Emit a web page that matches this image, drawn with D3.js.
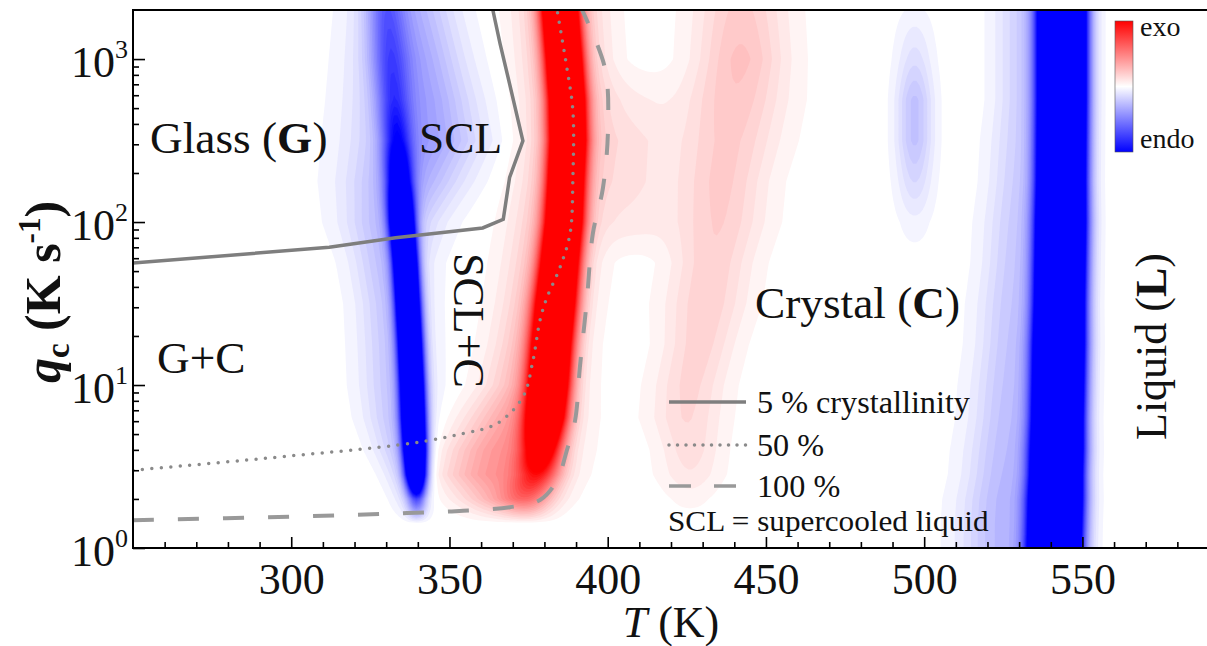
<!DOCTYPE html>
<html>
<head>
<meta charset="utf-8">
<script src="https://cdn.jsdelivr.net/npm/d3@7"></script>
<style>
  body { margin: 0; background: #fff; }
  text { font-family: "Liberation Serif", "Times New Roman", serif; fill: #111; }
</style>
</head>
<body>
<svg id="chart" width="1207" height="646"></svg>
<script>
// rows (log10 of q_c) at which the ridges of the map were read
var qRows = [0, 0.15, 0.3, 0.45, 0.6, 0.8, 1.0, 1.25, 1.5, 1.75, 2.0, 2.25, 2.5, 2.75, 3.0, 3.31];

// each ridge: centre T (K), spread (K), signed strength (exo > 0, endo < 0) per row
var glassCore = {
  T: [339.7, 339.7, 339.7, 339.4, 339.1, 338.6, 338.2, 337.6, 336.9, 336.1, 335.0, 334.2, 333.4, 332.3, 331.2, 329.9],
  w: [2.0, 2.0, 2.0, 2.2, 2.3, 2.4, 2.4, 2.4, 2.4, 2.4, 2.5, 2.8, 3.2, 3.6, 4.0, 4.0],
  a: [0, 0, -0.6, -2.0, -2.5, -2.5, -2.5, -2.5, -2.5, -2.5, -2.3, -1.2, -0.7, -0.5, -0.45, -0.4]
};
var glassHalo = {
  T: [339, 339, 338, 337, 335.5, 334, 333.5, 333, 332.5, 331.5, 332, 336, 340, 339, 337.5, 336],
  w: [4, 4, 4, 5, 6, 7, 7.5, 7.5, 7.5, 8, 10, 12, 13, 12, 11, 10],
  a: [0, 0, -0.15, -0.22, -0.24, -0.24, -0.24, -0.24, -0.25, -0.27, -0.3, -0.36, -0.4, -0.4, -0.38, -0.33]
};
var crystCore = {
  T: [375, 375, 374.8, 378, 379.2, 380.5, 381.4, 382.4, 383.6, 384.9, 386.2, 386.8, 387.4, 387.1, 386.2, 384.9],
  w: [5, 5, 5.5, 4.8, 4.3, 4.2, 4.0, 4.0, 4.0, 3.8, 3.7, 3.6, 3.6, 3.6, 3.6, 3.6],
  a: [0, 0, 0.35, 0.7, 1.2, 2.0, 2.5, 2.5, 2.5, 2.5, 2.5, 2.5, 2.5, 2.5, 2.5, 2.5]
};
var crystHalo = {
  T: [368, 368, 367.5, 366, 368, 372, 376, 378, 380, 382, 384, 386, 387, 387, 386, 385],
  w: [8, 8, 10, 12, 12, 11, 9.5, 9, 9, 9, 9, 9, 9, 9, 9, 9],
  a: [0, 0, 0.32, 0.42, 0.42, 0.38, 0.34, 0.32, 0.3, 0.3, 0.3, 0.3, 0.3, 0.3, 0.3, 0.3]
};
var coldBand = {
  T: [426, 426, 426, 426, 426, 425, 426, 429, 431, 433, 435, 436, 438, 440, 442, 442],
  w: [6, 6, 6, 7, 7, 8, 8, 8, 9, 9, 10, 10, 11, 11, 10, 10],
  a: [0, 0, 0.04, 0.1, 0.13, 0.15, 0.16, 0.17, 0.18, 0.18, 0.19, 0.2, 0.2, 0.22, 0.24, 0.2]
};
var coldBridge = {
  T: [408, 408, 408, 408, 408, 408, 408, 408, 408, 408, 408, 408, 408, 408, 408, 408],
  w: [9, 9, 9, 9, 9, 9, 9, 9, 9, 9, 9, 9, 9, 9, 9, 9],
  a: [0, 0, 0, 0, 0, 0, 0, 0, 0, 0, 0.08, 0.1, 0.1, 0.06, 0, 0]
};
var blueSpot = {
  T: [497, 497, 497, 497, 497, 497, 497, 497, 497, 497, 497, 497, 497, 497, 497, 497],
  w: [4, 4, 4, 4, 4, 4, 4, 4, 4, 4, 4, 4, 4, 4, 4, 4],
  a: [0, 0, 0, 0, 0, 0, 0, 0, 0, 0, -0.05, -0.15, -0.24, -0.24, -0.13, -0.03]
};
var meltCore = {
  T: [541.3, 541.5, 541.7, 541.9, 542.1, 542.3, 542.5, 542.7, 542.9, 543.1, 543.3, 543.4, 543.5, 543.6, 543.6, 543.6],
  w: [4.6, 4.6, 4.6, 4.5, 4.5, 4.4, 4.4, 4.4, 4.3, 4.3, 4.3, 4.2, 4.2, 4.2, 4.2, 4.2],
  a: [-5, -5, -5, -5, -5, -5, -5, -5, -5, -5, -5, -5, -5, -5, -5, -5]
};
var meltHalo = {
  T: [525, 525, 525.5, 526, 526.5, 527, 527.5, 528, 528.5, 529, 529.5, 530, 530.5, 531, 531, 531],
  w: [9, 9, 9, 8.5, 8.5, 8, 8, 7.5, 7.5, 7, 7, 6.5, 6.5, 6, 6, 6],
  a: [-0.28, -0.28, -0.28, -0.27, -0.26, -0.25, -0.24, -0.23, -0.22, -0.21, -0.2, -0.19, -0.18, -0.18, -0.18, -0.18]
};
var ridges = [glassCore, glassHalo, crystCore, crystHalo, coldBand, coldBridge, blueSpot, meltCore, meltHalo];

// crystallinity contours: T (K) and q_c (K/s)
var line5T = [250, 312, 333, 360.5, 367, 369, 373.2, 369, 366, 363.7];
var line5Q = [56, 70, 80, 92, 104, 188, 315, 704, 1240, 2000];
var line50T = [250, 291.1, 338.5, 354.3, 365, 373.2, 376.4, 378.6, 380.8, 384.9, 388.1, 389, 389, 387.1, 384];
var line50Q = [3.0, 3.54, 4.41, 5.04, 5.8, 8.45, 14.2, 24.9, 34.4, 52.6, 84.9, 187, 481, 882, 2000];
var line100T = [250, 301.8, 336.6, 354.3, 369.1, 378.6, 384, 387.1, 389.7, 391.2, 393.4, 395.3, 398.5, 400.1, 399.1, 391.9];
var line100Q = [1.48, 1.56, 1.64, 1.69, 1.78, 1.97, 2.61, 3.98, 6.08, 12.8, 33, 84.9, 162, 379, 882, 2000];

var xTicks = [300, 350, 400, 450, 500, 550];
var yTicks = [1, 10, 100, 1000];

var svg = d3.select("#chart");
var plot = { left: 133, right: 1209, top: 10, bottom: 548 };
var tMin = 250, tMax = 590, qMax = 2000;

var x = d3.scaleLinear()
          .domain([tMin, tMax])
          .range([plot.left, plot.right]);
var y = d3.scaleLog()
          .domain([1, qMax])
          .range([plot.bottom, plot.top]);

svg.append("defs")
  .append("clipPath")
    .attr("id", "clip")
  .append("rect")
    .attr("x", plot.left)
    .attr("y", plot.top)
    .attr("width", plot.right - plot.left)
    .attr("height", plot.bottom - plot.top);

// --- map: sum of the ridges on a grid, then filled contours
var nx = 340, ny = 330;
var dT = (tMax - tMin) / nx;
var dL = Math.log10(qMax) / ny;
var rowScales = ridges.map(r => ({
  c: d3.scaleLinear().domain(qRows).range(r.T).clamp(true),
  w: d3.scaleLinear().domain(qRows).range(r.w).clamp(true),
  a: d3.scaleLinear().domain(qRows).range(r.a).clamp(true)
}));

var values = new Float64Array(nx * ny);
for (var j = 0; j < ny; j++) {
  var L = (j + 0.5) * dL;
  var pars = rowScales.map(s => ({ c: s.c(L), w: s.w(L), a: s.a(L) }));
  for (var i = 0; i < nx; i++) {
    var T = tMin + (i + 0.5) * dT;
    var v = 0;
    pars.forEach(p => {
      var d = (T - p.c) / p.w;
      v += p.a * Math.exp(-0.5 * d * d);
    });
    values[j * nx + i] = v;
  }
}

var levels = d3.range(0.025, 1.0001, 0.0406);
var contours = d3.contours()
                 .size([nx, ny])
                 .thresholds(levels);

var toPx = d3.geoTransform({
  point: function(gx, gy) {
    this.stream.point(x(tMin + gx * dT), y(Math.pow(10, gy * dL)));
  }
});
var path = d3.geoPath(toPx);

var exoColor = d3.interpolateRgb("#ffffff", "#ff0000");
var endoColor = d3.interpolateRgb("#ffffff", "#0000ff");

var map = svg.append("g")
  .attr("clip-path", "url(#clip)");

map.selectAll(".exo")
  .data(contours(values))
  .join("path")
    .classed("exo", true)
    .attr("d", path)
    .attr("fill", d => exoColor(Math.min(1, d.value + 0.02)));

map.selectAll(".endo")
  .data(contours(values.map(v => -v)))
  .join("path")
    .classed("endo", true)
    .attr("d", path)
    .attr("fill", d => endoColor(Math.min(1, d.value + 0.02)));

// --- crystallinity lines
var line = d3.line()
             .x(d => x(d[0]))
             .y(d => y(d[1]));
var smooth = d3.line()
               .x(d => x(d[0]))
               .y(d => y(d[1]))
               .curve(d3.curveCatmullRom.alpha(0.5));

var lines = svg.append("g")
  .attr("clip-path", "url(#clip)")
  .attr("fill", "none");

lines.append("path")
  .attr("d", line(d3.zip(line5T, line5Q)))
  .attr("stroke", "#7e7e7e")
  .attr("stroke-width", 3.5);

lines.append("path")
  .attr("d", smooth(d3.zip(line50T, line50Q)))
  .attr("stroke", "#8a8a8a")
  .attr("stroke-width", 3.5)
  .attr("stroke-linecap", "round")
  .attr("stroke-dasharray", "0 9.5");

lines.append("path")
  .attr("d", smooth(d3.zip(line100T, line100Q)))
  .attr("stroke", "#999999")
  .attr("stroke-width", 4)
  .attr("stroke-dasharray", "21 24");

// --- axes (ticks point inwards)
var xAxis = d3.axisBottom(x)
              .tickValues(xTicks)
              .tickSize(-11)
              .tickPadding(15);
svg.append("g")
    .attr("transform", "translate(0," + plot.bottom + ")")
    .call(xAxis)
    .call(g => g.select(".domain").remove())
    .call(g => g.selectAll("text")
                .attr("font-size", 44)
                .attr("font-family", "Liberation Serif, serif")
                .attr("fill", "#111"));

svg.append("g")
    .attr("transform", "translate(0," + plot.bottom + ")")
    .call(d3.axisBottom(x)
            .tickValues(d3.range(260, tMax, 10).filter(t => t % 50 !== 0))
            .tickSize(-6)
            .tickFormat(""))
    .call(g => g.select(".domain").remove());

svg.append("g")
    .attr("transform", "translate(" + plot.left + ",0)")
    .call(d3.axisLeft(y)
            .tickValues(yTicks)
            .tickSize(-12)
            .tickFormat(""))
    .call(g => g.select(".domain").remove());

var minorQ = [];
yTicks.forEach(b => d3.range(2, 10).forEach(m => { if (b * m < qMax) minorQ.push(b * m); }));
svg.append("g")
    .attr("transform", "translate(" + plot.left + ",0)")
    .call(d3.axisLeft(y)
            .tickValues(minorQ)
            .tickSize(-6)
            .tickFormat(""))
    .call(g => g.select(".domain").remove());

svg.selectAll(".tick line")
  .attr("stroke", "#000")
  .attr("stroke-width", 1.6);

svg.append("rect")
  .attr("x", plot.left)
  .attr("y", plot.top)
  .attr("width", plot.right - plot.left)
  .attr("height", plot.bottom - plot.top)
  .attr("fill", "none")
  .attr("stroke", "#000")
  .attr("stroke-width", 2);

var yLabels = svg.selectAll(".ylab")
  .data(yTicks)
  .join("text")
    .classed("ylab", true)
    .attr("x", 128)
    .attr("y", d => y(d) + 18)
    .attr("text-anchor", "end")
    .attr("font-size", 44)
    .text("10");
yLabels.append("tspan")
  .attr("dy", -19)
  .attr("font-size", 26)
  .text(d => Math.round(Math.log10(d)));

// axis titles
var xTitle = svg.append("text")
  .attr("x", 671)
  .attr("y", 637)
  .attr("text-anchor", "middle")
  .attr("font-size", 44);
xTitle.append("tspan").attr("font-style", "italic").text("T");
xTitle.append("tspan").text(" (K)");

var yTitle = svg.append("text")
  .attr("transform", "translate(60,292) rotate(-90)")
  .attr("text-anchor", "middle")
  .attr("font-size", 50)
  .attr("font-weight", "bold");
yTitle.append("tspan").attr("font-style", "italic").text("q");
yTitle.append("tspan").attr("font-size", 33).attr("dy", 9).text("c");
yTitle.append("tspan").attr("dy", -9).text(" (K s");
yTitle.append("tspan").attr("font-size", 31).attr("dy", -20).text("-1");
yTitle.append("tspan").attr("dy", 20).text(")");

// region names
function label(txt, bold, tail, px, py, rot) {
  var t = svg.append("text")
    .attr("font-size", 44)
    .attr("transform", "translate(" + px + "," + py + ")" + (rot ? " rotate(" + rot + ")" : " scale(1.03,1)"));
  t.append("tspan").text(txt);
  if (bold) {
    t.append("tspan").attr("font-weight", "bold").text(bold);
    t.append("tspan").text(tail);
  }
}
label("Glass (", "G", ")", 150, 153);
label("SCL", null, null, 419, 153);
label("G+C", null, null, 157, 373);
label("Crystal (", "C", ")", 755, 318);
label("SCL+C", null, null, 454, 253, 90);
label("Liquid (", "L", ")", 1166, 440, -90);

// legend
var legend = svg.append("g");
var legendRows = [
  { y: 402, dash: null, text: "5 % crystallinity", color: "#7e7e7e" },
  { y: 445, dash: "0 8.5", text: "50 %", color: "#8a8a8a" },
  { y: 486, dash: "22 23", text: "100 %", color: "#999999" }
];
legendRows.forEach(r => {
  legend.append("line")
    .attr("x1", 669).attr("x2", 746)
    .attr("y1", r.y).attr("y2", r.y)
    .attr("stroke", r.color)
    .attr("stroke-width", 3.5)
    .attr("stroke-linecap", r.dash === "0 8.5" ? "round" : "butt")
    .attr("stroke-dasharray", r.dash);
  legend.append("text")
    .attr("x", 757)
    .attr("y", r.y + 11)
    .attr("font-size", 31)
    .attr("transform", "translate(" + (-757 * 0.04) + ",0) scale(1.04,1)")
    .text(r.text);
});
legend.append("text")
  .attr("x", 668)
  .attr("y", 531)
  .attr("font-size", 30)
  .attr("transform", "translate(" + (-668 * 0.04) + ",0) scale(1.04,1)")
  .text("SCL = supercooled liquid");

// colour bar
var grad = svg.select("defs").append("linearGradient")
  .attr("id", "bar")
  .attr("x1", 0).attr("x2", 0)
  .attr("y1", 0).attr("y2", 1);
grad.append("stop").attr("offset", "0%").attr("stop-color", "#ff0000");
grad.append("stop").attr("offset", "50%").attr("stop-color", "#ffffff");
grad.append("stop").attr("offset", "100%").attr("stop-color", "#0000ff");

svg.append("rect")
  .attr("x", 1115)
  .attr("y", 21)
  .attr("width", 18)
  .attr("height", 131)
  .attr("fill", "url(#bar)")
  .attr("stroke", "#555")
  .attr("stroke-width", 0.6);
svg.append("text")
  .attr("x", 1140).attr("y", 36)
  .attr("font-size", 28)
  .text("exo");
svg.append("text")
  .attr("x", 1140).attr("y", 148)
  .attr("font-size", 28)
  .text("endo");
</script>
</body>
</html>
